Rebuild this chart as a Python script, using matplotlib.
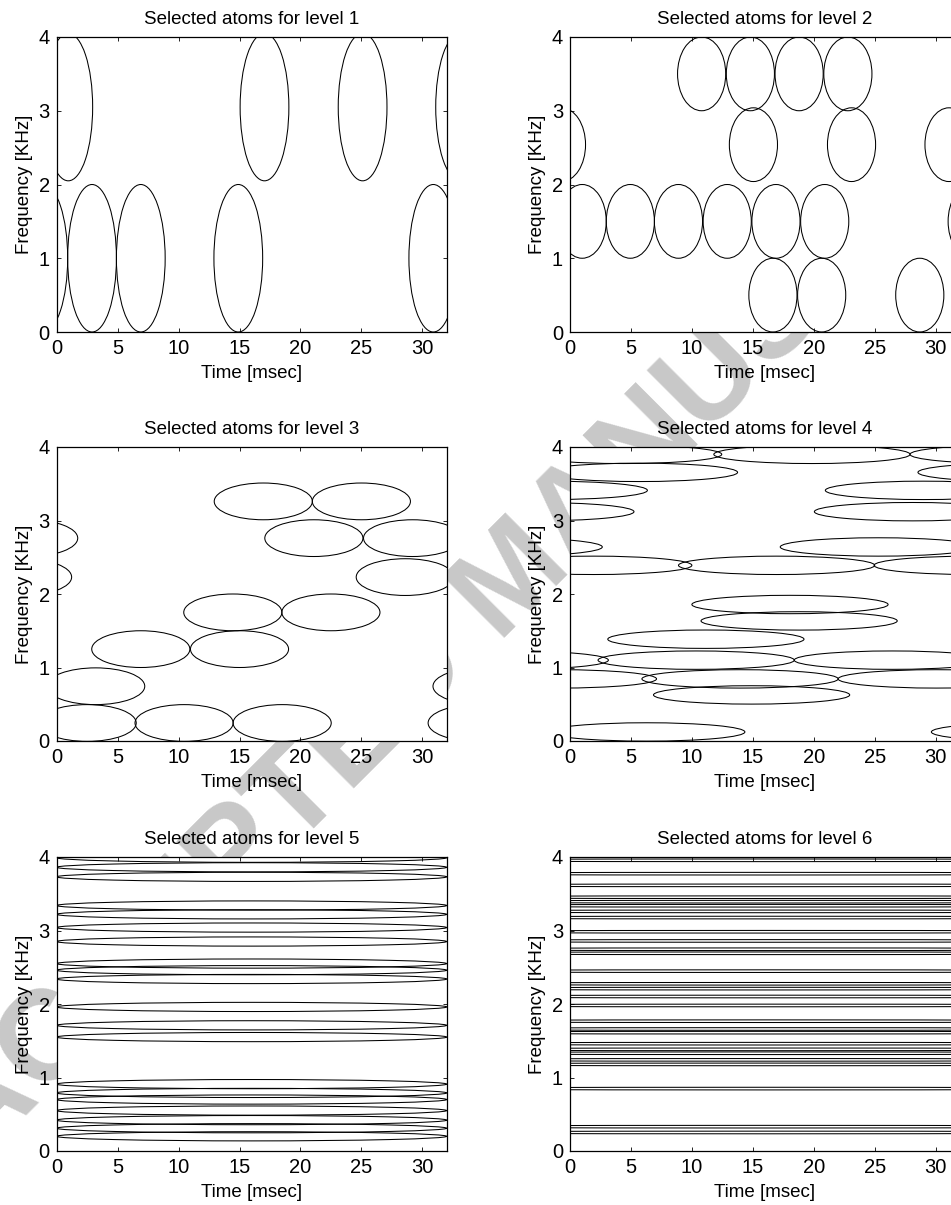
import matplotlib as mpl
mpl.use('Agg')
import matplotlib.pyplot as plt
from matplotlib.patches import Ellipse

plt.rcParams['font.family'] = ['Liberation Sans', 'DejaVu Sans']

# atom sizes per level: (width in msec, height in KHz)
atom_size = [(4.0, 2.0), (3.95, 1.0), (8.05, 0.5), (16.1, 0.25), (32.0, 0.125), (64.0, 0.036)]

# level 1
lev1_t = [-1.1, 2.9, 6.9, 14.9, 30.9, 0.95, 17.05, 25.1, 33.1]
lev1_f = [1.0, 1.0, 1.0, 1.0, 1.0, 3.05, 3.05, 3.05, 3.05]

# level 2
lev2_t = [10.8, 14.8, 18.8, 22.8, -0.7, 15.05, 23.1, 31.1,
          1.0, 4.95, 8.9, 12.9, 16.9, 20.9, 33.0, 16.65, 20.65, 28.7]
lev2_f = [3.5, 3.5, 3.5, 3.5, 2.54, 2.54, 2.54, 2.54,
          1.5, 1.5, 1.5, 1.5, 1.5, 1.5, 1.5, 0.5, 0.5, 0.5]

# level 3
lev3_t = [16.95, 25.0, -2.3, 21.1, 29.2, -2.8, 28.6, 14.45, 22.5,
          6.9, 15.0, 3.2, 34.9, 2.5, 10.45, 18.5, 34.5]
lev3_f = [3.26, 3.26, 2.76, 2.76, 2.76, 2.23, 2.23, 1.75, 1.75,
          1.25, 1.25, 0.745, 0.745, 0.245, 0.245, 0.245, 0.245]

# level 4
lev4_t = [4.4, 19.85, 35.95, 5.7, 36.6, -1.7, 29.0, -2.8, 28.1, -5.4, 25.3,
          1.95, 16.95, 33.0, 18.05, 18.8, 11.15, -4.9, 10.35, 26.45,
          -0.95, 13.95, 30.05, 14.9, 6.3, 37.7]
lev4_f = [3.9, 3.9, 3.9, 3.655, 3.655, 3.41, 3.41, 3.12, 3.12, 2.64, 2.64,
          2.39, 2.39, 2.39, 1.857, 1.634, 1.385, 1.1, 1.1, 1.1,
          0.845, 0.845, 0.845, 0.627, 0.123, 0.123]

# level 5 (all atoms span the whole frame)
lev5_f = [3.99, 3.86, 3.73, 3.34, 3.22, 3.04, 2.85, 2.55, 2.46, 2.34,
          1.96, 1.71, 1.55, 0.91, 0.79, 0.70, 0.55, 0.42, 0.31, 0.20]
lev5_t = [16.0] * len(lev5_f)

# level 6 (very long, very thin atoms)
lev6_f = [3.955, 3.773, 3.614, 3.453, 3.392, 3.337, 3.26, 3.176, 2.983,
          2.858, 2.745, 2.69, 2.447, 2.275, 2.209, 2.102, 1.98, 1.766,
          1.66, 1.61, 1.46, 1.383, 1.33, 1.24, 1.178, 0.849, 0.331, 0.252]
lev6_t = [16.0] * len(lev6_f)

levels = [(lev1_t, lev1_f), (lev2_t, lev2_f), (lev3_t, lev3_f),
          (lev4_t, lev4_f), (lev5_t, lev5_f), (lev6_t, lev6_f)]

xticks = [0, 5, 10, 15, 20, 25, 30]
yticks = [0, 1, 2, 3, 4]

W, H = 951, 1205
fig = plt.figure(figsize=(W / 100, H / 100), dpi=100)

# page watermark, sits under the (white) plot boxes
fig.text(-23 / W, 1 - 1165 / H, 'ACCEPTED MANUSCRIPT', fontsize=92, fontweight='bold',
         color='#c8c8c8', rotation=45, rotation_mode='anchor',
         ha='left', va='baseline', zorder=-5)

# axes boxes in pixels: left, top, right, bottom
col_x = [(56.7, 446.7), (570.0, 960.0)]
row_y = [(37.0, 332.0), (447.0, 741.0), (857.0, 1151.0)]

for i, (ts, fs) in enumerate(levels):
    r, c = divmod(i, 2)
    x0, x1 = col_x[c]
    y0, y1 = row_y[r]
    ax = fig.add_axes([x0 / W, 1 - y1 / H, (x1 - x0) / W, (y1 - y0) / H])
    ax.set_facecolor('white')
    w, h = atom_size[i]
    for t, f in zip(ts, fs):
        ax.add_patch(Ellipse((t, f), w, h, fill=False, ec='black', lw=0.75))
    ax.set_xlim(0, 32)
    ax.set_ylim(0, 4)
    ax.set_xticks(xticks)
    ax.set_yticks(yticks)
    ax.tick_params(direction='in', top=True, right=True, length=3, width=0.6,
                   labelsize=14.5, pad=5)
    for s in ax.spines.values():
        s.set_linewidth(0.9)
    ax.set_title('Selected atoms for level %d' % (i + 1), fontsize=13.5, pad=9)
    ax.set_xlabel('Time [msec]', fontsize=13.5, labelpad=5)
    ax.set_ylabel('Frequency [KHz]', fontsize=13.5, labelpad=4)

fig.savefig('out.png', dpi=100)
